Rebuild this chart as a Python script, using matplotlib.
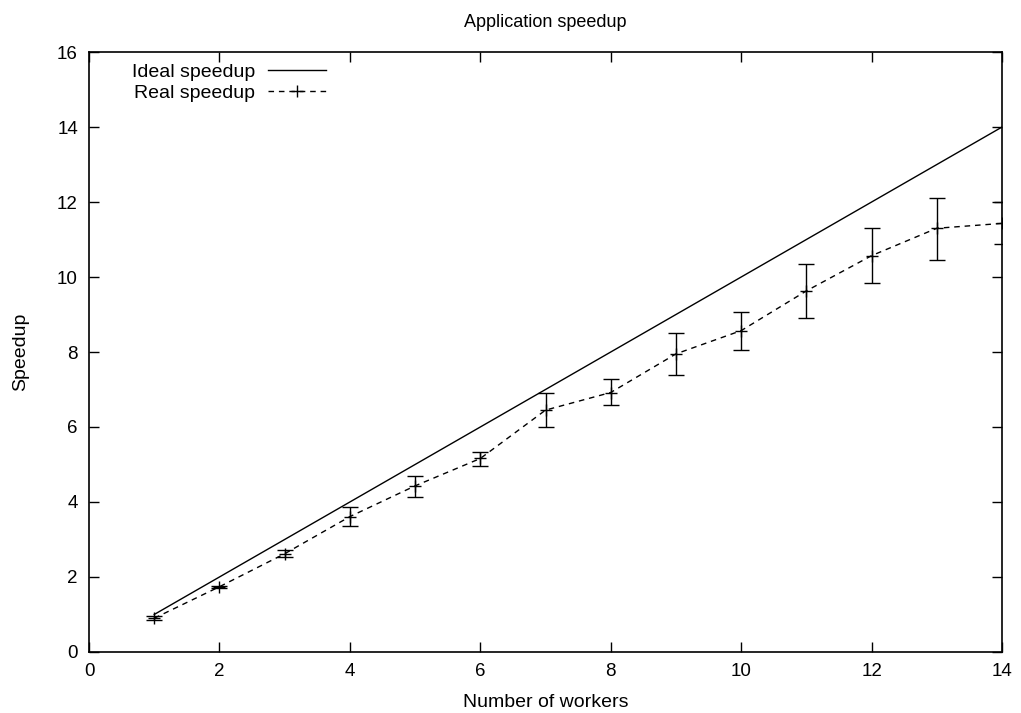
import numpy as np
import matplotlib
matplotlib.use('Agg')
from matplotlib import pyplot as plt
from matplotlib.lines import Line2D

plt.rcParams['font.family'] = ['Liberation Sans', 'DejaVu Sans']

workers = [1, 2, 3, 4, 5, 6, 7, 8, 9, 10, 11, 12, 13, 14]
ideal = [1, 2, 3, 4, 5, 6, 7, 8, 9, 10, 11, 12, 13, 14]
real = [0.90, 1.74, 2.62, 3.61, 4.43, 5.16, 6.45, 6.92, 7.95, 8.57, 9.63, 10.57, 11.30, 11.43]
real_low = [0.85, 1.71, 2.52, 3.36, 4.12, 4.97, 6.01, 6.59, 7.39, 8.05, 8.92, 9.83, 10.45, 10.88]
real_high = [0.95, 1.77, 2.72, 3.86, 4.70, 5.34, 6.92, 7.27, 8.50, 9.07, 10.35, 11.31, 12.11, 11.99]

real = np.array(real)
yerr = [real - np.array(real_low), np.array(real_high) - real]

fig = plt.figure(figsize=(10.21, 7.13), dpi=100)
ax = fig.add_axes([0.0872, 0.0856, 0.9814 - 0.0872, 0.927 - 0.0856])

dash = (0, (4, 3.5))
ax.plot(workers, ideal, color='black', lw=1)
ax.errorbar(workers, real, yerr=yerr, color='black', lw=1, ls=dash,
            marker='+', markersize=8, capsize=6, elinewidth=1, capthick=1)

ax.set_xlim(0, 14)
ax.set_ylim(0, 16)
ax.set_xticks(range(0, 15, 2))
ax.set_yticks(range(0, 17, 2))
ax.tick_params(direction='in', length=7, width=1, top=True, right=True, labelsize=13.5, pad=8)
for s in ax.spines.values():
    s.set_linewidth(1.2)

ax.set_title('Application speedup', fontsize=13, pad=18)
ax.set_xlabel('Number of workers', fontsize=14, labelpad=10)
ax.set_ylabel('Speedup', fontsize=14, labelpad=20)

handles = [Line2D([], [], color='black', lw=1),
           Line2D([], [], color='black', lw=1, ls=dash, marker='+', markersize=8)]
leg = ax.legend(handles, ['Ideal speedup', 'Real speedup'], loc='upper left',
                bbox_to_anchor=(0.028, 1.01), frameon=False, markerfirst=False,
                fontsize=14, handlelength=3.0, labelspacing=0.15, handletextpad=0.65)

fig.savefig('out.png', dpi=100)
